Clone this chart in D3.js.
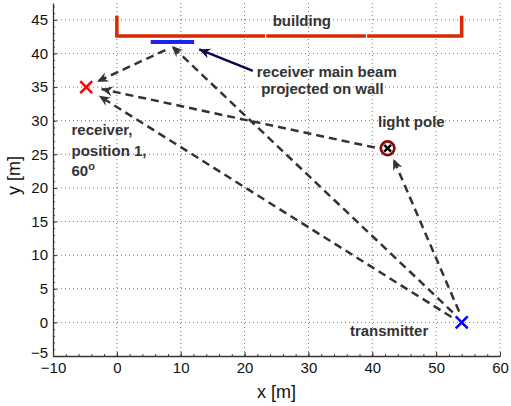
<!DOCTYPE html>
<html>
<head>
<meta charset="utf-8">
<script src="https://cdn.jsdelivr.net/npm/d3@7"></script>
<style>
  body { margin: 0; background: #fff; }
  svg text { font-family: "Liberation Sans", Arial, Helvetica, sans-serif; }
  .note { font-weight: bold; font-size: 15px; fill: #333; }
</style>
</head>
<body>
<div id="chart"></div>
<script>
// axis ticks
var xTicks = [-10, 0, 10, 20, 30, 40, 50, 60];
var yTicks = [-5, 0, 5, 10, 15, 20, 25, 30, 35, 40, 45];

// building wall (three pieces, as drawn)
var building = [
  [[0, 45.6], [0, 42.6], [23.2, 42.6]],
  [[23.4, 42.6], [39.0, 42.6]],
  [[39.2, 42.6], [54, 42.6], [54, 45.6]]
];
// receiver main beam projected on wall
var beam = [[5.3, 41.7], [12.1, 41.7]];

// positions
var transmitter = [54, 0];
var receiver = [-4.8, 35];
var lightPole = [42.4, 25.9];

// propagation paths (dashed arrows): start -> tip
var paths = [
  [[52.6, 1.5], [8.6, 41.1]],
  [[7.6, 40.5], [-3.1, 35.8]],
  [[53.6, 1.6], [43.3, 24.3]],
  [[40.4, 26.0], [-2.4, 34.7]],
  [[52.4, 0.8], [-2.8, 33.7]]
];
// pointer from the beam label
var pointer = [[21.3, 37.4], [12.9, 40.6]];

// text labels [x, y, text]
var labels = [
  [24.4, 44.1, "building"],
  [21.9, 36.5, "receiver main beam"],
  [22.6, 33.9, "projected on wall"],
  [40.9, 29.1, "light pole"],
  [-7.1, 27.8, "receiver,"],
  [-7.1, 24.8, "position 1,"],
  [36.5, -2.0, "transmitter"]
];

var width = 511, height = 406;
var margin = { left: 53, right: 11, top: 3, bottom: 50 };

var x = d3.scaleLinear().domain([-10, 60]).range([margin.left, width - margin.right]);
var y = d3.scaleLinear().domain([-5, 47.5]).range([height - margin.bottom, margin.top]);

var svg = d3.select("#chart").append("svg")
  .attr("width", width)
  .attr("height", height);

var defs = svg.append("defs");
function arrowMarker(id, color) {
  defs.append("marker")
    .attr("id", id)
    .attr("markerUnits", "userSpaceOnUse")
    .attr("viewBox", "-12 -6 13 12")
    .attr("refX", 0).attr("refY", 0)
    .attr("markerWidth", 13).attr("markerHeight", 12)
    .attr("orient", "auto")
    .append("path")
    .attr("d", "M0,0 L-11,-5 L-7.5,0 L-11,5 Z")
    .attr("fill", color);
}
arrowMarker("headDark", "#333");
arrowMarker("headNavy", "#0a0a4a");

// grid
var grid = svg.append("g")
  .attr("stroke", "#555")
  .attr("stroke-width", 0.8)
  .attr("stroke-dasharray", "1,3");
grid.selectAll(".gx")
  .data(xTicks.slice(1))
  .join("line")
  .attr("x1", d => x(d)).attr("x2", d => x(d))
  .attr("y1", y(-5)).attr("y2", y(47.5));
grid.selectAll(".gy")
  .data(yTicks.slice(1))
  .join("line")
  .attr("x1", x(-10)).attr("x2", x(60))
  .attr("y1", d => y(d)).attr("y2", d => y(d));

// minor ticks
svg.append("g")
  .attr("transform", `translate(0,${y(-5)})`)
  .call(d3.axisBottom(x).tickValues(d3.range(-10, 61, 2)).tickSize(-2).tickFormat(""))
  .call(g => g.select(".domain").remove())
  .selectAll("line").attr("stroke", "#444");
svg.append("g")
  .attr("transform", `translate(${x(-10)},0)`)
  .call(d3.axisLeft(y).tickValues(d3.range(-5, 48, 1)).tickSize(-2).tickFormat(""))
  .call(g => g.select(".domain").remove())
  .selectAll("line").attr("stroke", "#444");

// main axes
var xAxis = svg.append("g")
  .attr("transform", `translate(0,${y(-5)})`)
  .call(d3.axisBottom(x).tickValues(xTicks).tickSizeInner(-4).tickSizeOuter(0).tickPadding(6));
var yAxis = svg.append("g")
  .attr("transform", `translate(${x(-10)},0)`)
  .call(d3.axisLeft(y).tickValues(yTicks).tickSizeInner(-4).tickSizeOuter(0).tickPadding(5));
[xAxis, yAxis].forEach(function (a) {
  a.select(".domain").attr("stroke", "#333").attr("stroke-width", 1.3);
  a.selectAll(".tick line").attr("stroke", "#333");
  a.selectAll(".tick text")
    .attr("fill", "#111")
    .style("font-size", "15px");
});
// lift the -5 label a little, like the original
yAxis.selectAll(".tick text").filter(d => d === -5).attr("dy", "0.1em");

// axis labels
svg.append("text")
  .attr("x", (x(-10) + x(60)) / 2)
  .attr("y", 398)
  .attr("text-anchor", "middle")
  .style("font-size", "18px")
  .attr("fill", "#111")
  .text("x [m]");
svg.append("text")
  .attr("transform", `translate(20,${(y(-5) + y(47.5)) / 2 - 4}) rotate(-90)`)
  .attr("text-anchor", "middle")
  .style("font-size", "18px")
  .attr("fill", "#111")
  .text("y [m]");

// building
var line = d3.line().x(d => x(d[0])).y(d => y(d[1]));
svg.append("g")
  .selectAll("path")
  .data(building)
  .join("path")
  .attr("d", line)
  .attr("fill", "none")
  .attr("stroke", "#d92a06")
  .attr("stroke-width", 3.5);

// beam on wall
svg.append("path")
  .attr("d", line(beam))
  .attr("stroke", "#2020f0")
  .attr("stroke-width", 4);

// dashed propagation paths
svg.append("g")
  .selectAll("line")
  .data(paths)
  .join("line")
  .attr("x1", d => x(d[0][0])).attr("y1", d => y(d[0][1]))
  .attr("x2", d => x(d[1][0])).attr("y2", d => y(d[1][1]))
  .attr("stroke", "#333")
  .attr("stroke-width", 2.5)
  .attr("stroke-dasharray", "8,5")
  .attr("marker-end", "url(#headDark)");

// pointer arrow
svg.append("line")
  .attr("x1", x(pointer[0][0])).attr("y1", y(pointer[0][1]))
  .attr("x2", x(pointer[1][0])).attr("y2", y(pointer[1][1]))
  .attr("stroke", "#0a0a4a")
  .attr("stroke-width", 2.5)
  .attr("marker-end", "url(#headNavy)");

// crosses
function cross(p, color, r, w) {
  svg.append("path")
    .attr("transform", `translate(${x(p[0])},${y(p[1])})`)
    .attr("d", `M${-r},${-r}L${r},${r}M${-r},${r}L${r},${-r}`)
    .attr("stroke", color)
    .attr("stroke-width", w);
}
cross(transmitter, "#0000ff", 6, 2.5);
cross(receiver, "#ff0000", 6, 2.5);

// light pole marker
svg.append("circle")
  .attr("cx", x(lightPole[0])).attr("cy", y(lightPole[1]))
  .attr("r", 6.8)
  .attr("fill", "#fff")
  .attr("stroke", "#8c0a0a")
  .attr("stroke-width", 2.7);
cross(lightPole, "#000", 3.4, 2.6);

// text notes
svg.append("g")
  .selectAll("text")
  .data(labels)
  .join("text")
  .attr("class", "note")
  .attr("x", d => x(d[0]))
  .attr("y", d => y(d[1]))
  .text(d => d[2]);

var deg = svg.append("text")
  .attr("class", "note")
  .attr("x", x(-7.1))
  .attr("y", y(21.8));
deg.append("tspan").text("60");
deg.append("tspan").attr("dy", -6).style("font-size", "11px").text("o");
</script>
</body>
</html>
